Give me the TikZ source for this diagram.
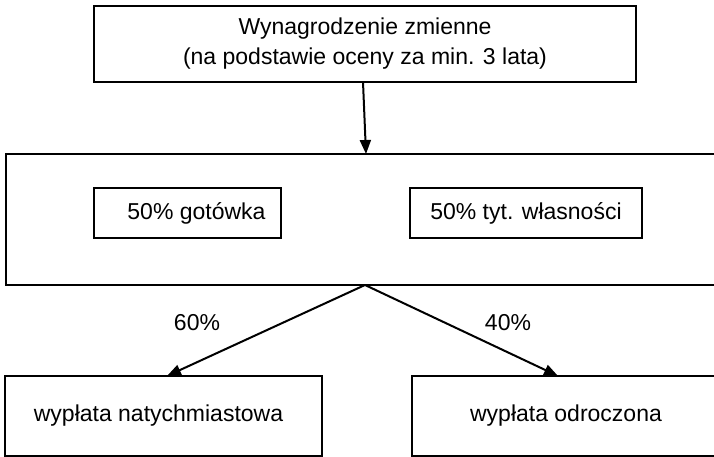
\documentclass[tikz,border=0pt]{standalone}
\usepackage{fontspec}
\setmainfont{Liberation Sans}
\usetikzlibrary{arrows.meta}

\begin{document}
\begin{tikzpicture}[x=1pt,y=1pt,
    box/.style={draw=black, line width=2pt, inner sep=0pt, outer sep=0pt, anchor=north west, align=center},
    arr/.style={-{Triangle[length=14pt,width=11pt]}, line width=2pt},
    every node/.style={font=\fontsize{23}{30}\selectfont}]
  \useasboundingbox (0,0) rectangle (714,457);
  \clip (0,0) rectangle (714,457);

  % top
  \node[box, minimum width=542pt, minimum height=76pt] (top) at (94,451)
    {Wynagrodzenie zmienne\\(na podstawie oceny za min. 3 lata)};

  % middle, split into two parts
  \node[box, minimum width=718pt, minimum height=131pt] (mid) at (6,303) {};
  \node[box, minimum width=187pt, minimum height=50pt] (cash) at (94,269) {\hspace*{18pt}50\% gotówka};
  \node[box, minimum width=232pt, minimum height=50pt] (shares) at (410,269) {50\% tyt. własności};

  % payouts
  \node[box, minimum width=317pt, minimum height=80pt] (now) at (5,81) {wypłata natychmiastowa\hspace*{10pt}};
  \node[box, minimum width=308pt, minimum height=80pt] (later) at (412,81) {wypłata odroczona};

  \node (pl) at (197,134) {60\%};
  \node (pr) at (508,134) {40\%};

  \draw[arr] ([xshift=-2pt]top.south) -- ([xshift=1pt]top.south |- mid.north);
  \draw[arr] (mid.south) -- ([xshift=3.5pt]now.north);
  \draw[arr] (mid.south) -- ([xshift=-8pt]later.north);
\end{tikzpicture}
\end{document}
